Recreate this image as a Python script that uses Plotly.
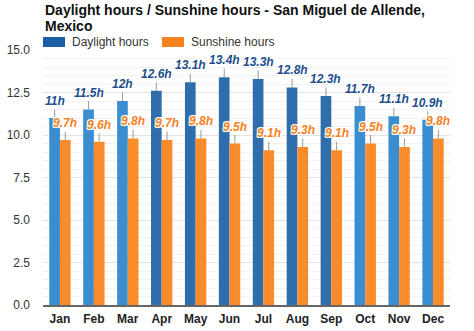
import plotly.graph_objects as go

months = ["Jan", "Feb", "Mar", "Apr", "May", "Jun", "Jul", "Aug", "Sep", "Oct", "Nov", "Dec"]
daylight = [11.0, 11.5, 12.0, 12.6, 13.1, 13.4, 13.3, 12.8, 12.3, 11.7, 11.1, 10.9]
sunshine = [9.7, 9.6, 9.8, 9.7, 9.8, 9.5, 9.1, 9.3, 9.1, 9.5, 9.3, 9.8]
daylight_labels = ["11h", "11.5h", "12h", "12.6h", "13.1h", "13.4h", "13.3h", "12.8h", "12.3h", "11.7h", "11.1h", "10.9h"]
sunshine_labels = ["9.7h", "9.6h", "9.8h", "9.7h", "9.8h", "9.5h", "9.1h", "9.3h", "9.1h", "9.5h", "9.3h", "9.8h"]
y_ticks = [0, 2.5, 5, 7.5, 10, 12.5, 15]

LIGHT_BLUE = "#3a8ed0"
DARK_BLUE = "#2f6eaa"
ORANGE = "#f98b2b"
LEGEND_BLUE = "#1d5ca6"
LEGEND_ORANGE = "#f7801f"
# the long-day months (Apr-Sep) use the deeper blue
day_colors = [DARK_BLUE if 3 <= i <= 8 else LIGHT_BLUE for i in range(len(months))]

halo = "-1px -1px 0 #fff, 1px -1px 0 #fff, -1px 1px 0 #fff, 1px 1px 0 #fff, 0 0 2px #fff"
FONT = "Liberation Sans, Arial, sans-serif"

fig = go.Figure()
fig.add_trace(go.Bar(x=months, y=daylight, name="Daylight hours",
                     marker=dict(color=day_colors, line=dict(width=0)),
                     showlegend=False))
fig.add_trace(go.Bar(x=months, y=sunshine, name="Sunshine hours",
                     marker=dict(color=ORANGE, line=dict(width=0)),
                     showlegend=False))

BAR_SHIFT = 0.157  # half of one bar's width, in category units

annotations = []
for i, m in enumerate(months):
    annotations.append(dict(
        x=i - BAR_SHIFT, y=daylight[i], xref="x", yref="y",
        text=daylight_labels[i], showarrow=True, arrowhead=0, arrowwidth=1,
        arrowcolor="#999999", ax=0, ay=-17, standoff=0,
        font=dict(family=FONT, size=12, color="#1e4f8c",
                  weight="bold", style="italic", shadow=halo)))
    annotations.append(dict(
        x=i + BAR_SHIFT, y=sunshine[i], xref="x", yref="y",
        text=sunshine_labels[i], showarrow=True, arrowhead=0, arrowwidth=1,
        arrowcolor="#999999", ax=0, ay=-17, standoff=0,
        font=dict(family=FONT, size=12, color="#f5821f",
                  weight="bold", style="italic", shadow=halo)))

# title, two lines
title_lines = ["Daylight hours / Sunshine hours - San Miguel de Allende,", "Mexico"]
for k, line in enumerate(title_lines):
    annotations.append(dict(
        x=0, y=(305 - 10 - 16 * k) / 255, xref="paper", yref="paper",
        xanchor="left", yanchor="middle", showarrow=False, text=f"<b>{line}</b>",
        font=dict(family=FONT, size=14, color="#111111")))

# legend entries
legend_items = [("Daylight hours", LEGEND_BLUE, 43), ("Sunshine hours", LEGEND_ORANGE, 162)]
shapes = []
for label, color, px in legend_items:
    shapes.append(dict(type="rect", xref="paper", yref="paper",
                       x0=(px - 43) / 407, x1=(px + 22 - 43) / 407,
                       y0=(305 - 47) / 255, y1=(305 - 37) / 255,
                       fillcolor=color, line=dict(width=0)))
    annotations.append(dict(
        x=(px + 27 - 43) / 407, y=(305 - 42) / 255, xref="paper", yref="paper",
        xanchor="left", yanchor="middle", showarrow=False, text=label,
        font=dict(family=FONT, size=12, color="#333333")))

fig.update_layout(
    width=474, height=331,
    margin=dict(l=43, r=24, t=50, b=26, autoexpand=False),
    paper_bgcolor="white", plot_bgcolor="white",
    font=dict(family=FONT, color="#333333", size=12),
    barmode="group", bargap=0.37, bargroupgap=0,
    showlegend=False,
    annotations=annotations,
    shapes=shapes,
)
fig.update_xaxes(
    showgrid=False, showline=True, linecolor="#666666", linewidth=2,
    ticks="", tickfont=dict(size=12, color="#222222", weight="bold"),
    range=[-0.5, 11.5], automargin=False, ticklabelstandoff=2)
fig.update_yaxes(
    range=[0, 15], tickvals=y_ticks, ticktext=[f"{v:.1f}" for v in y_ticks],
    showgrid=True, gridcolor="#e3e3e3", gridwidth=1,
    minor=dict(dtick=0.5, showgrid=True, gridcolor="#f2f2f2", gridwidth=1),
    zeroline=False, showline=False, ticks="", ticklabelstandoff=12,
    tickfont=dict(size=12, color="#333333"), automargin=False)

fig.write_html("out.html")
